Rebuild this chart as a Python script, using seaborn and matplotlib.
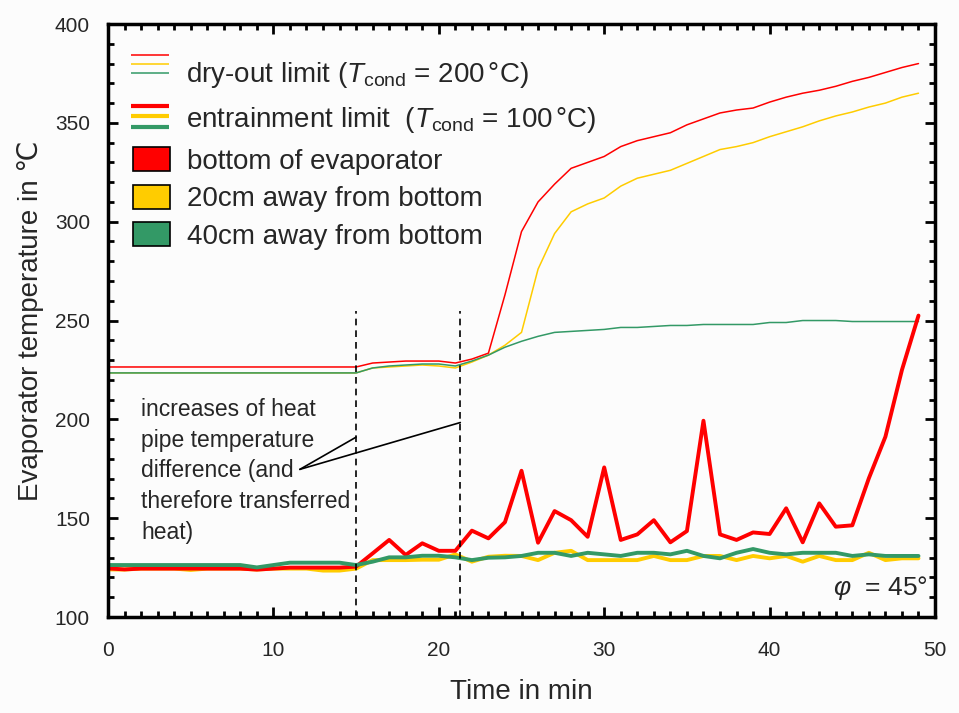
import numpy as np
import pandas as pd
import seaborn as sns
import matplotlib
matplotlib.use("Agg")
import matplotlib.pyplot as plt
from matplotlib.lines import Line2D
from matplotlib.patches import Patch
from matplotlib.legend_handler import HandlerBase
from matplotlib.ticker import MultipleLocator

# time axis, one reading per minute
time = list(range(50))

# dry-out limit (thin lines)
dry_red = [226.5] * 16 + [228.5, 229, 229.5, 229.5, 229.5, 228.5, 230.5, 233.5, 263,
           295, 310, 319, 327, 330, 333, 338, 341, 343, 345, 349, 352, 355, 356.5, 357.5,
           360.5, 363, 365, 366.5, 368.5, 371, 373, 375.5, 378, 380]
dry_yellow = [223.5] * 16 + [226, 226.5, 227, 227.5, 227, 226, 229, 232.5, 237.5,
              244, 276, 294, 305, 309, 312, 318, 322, 324, 326, 329.5, 333, 336.5, 338, 340,
              343, 345.5, 348, 351, 353.5, 355.5, 358, 360, 363, 365]
dry_green = [223.5] * 16 + [226, 227, 227.5, 228, 228, 227, 229.5, 232.5, 236.5,
             239.5, 242, 244, 244.5, 245, 245.5, 246.5, 246.5, 247, 247.5, 247.5, 248, 248, 248, 248,
             249, 249, 250, 250, 250, 249.5, 249.5, 249.5, 249.5, 249.5]

# measured temperatures (thick lines)
bottom = [124.6, 124.1, 124.5, 124.5, 124.5, 124.5, 124.5, 124.5, 124.5, 124, 124.5, 125, 125, 125, 125, 125.5,
          132.2, 139, 131.4, 137.3, 133.5, 133.5, 143.7, 139.8, 148,
          174, 137.6, 153.6, 149, 140.6, 175.7, 139, 141.8, 149, 137.8, 143.5, 199.3, 141.8, 139, 142.8,
          142, 155, 137.8, 157.5, 145.7, 146.4, 170.2, 191.2, 225, 252.5]
cm20 = [124.1, 124, 124.5, 124.5, 124.5, 123.8, 124.5, 124.5, 124.5, 124, 124.5, 124.5, 124.5, 123.5, 123.5, 124.5,
        128.8, 128.8, 128.8, 129, 129, 131.7, 128, 130.5, 131,
        130.9, 128.8, 132.5, 133.5, 128.8, 128.8, 128.8, 128.8, 130.9, 128.8, 128.8, 130.9, 130.9, 128.8, 130.9,
        129.7, 130.9, 128, 130.9, 128.8, 128.8, 132.5, 128.8, 129.7, 129.7]
cm40 = [126.3] * 9 + [125.1, 126.3, 127.5, 127.5, 127.5, 127.5, 126.3,
        128, 130.2, 130.2, 131, 131, 130.2, 128.8, 130, 130.2,
        130.9, 132.5, 132.5, 130.9, 132.5, 131.7, 130.9, 132.5, 132.5, 131.7, 133.5, 130.9, 129.7, 132.5, 134.4,
        132.5, 131.7, 132.5, 132.5, 132.5, 130.9, 131.7, 130.9, 130.9, 130.9]

# times where heat input was increased
steps = [15, 21.3]

RED = "#ff0000"
YEL = "#ffcc00"
GRN = "#339966"

sns.set_style("ticks")
plt.rcParams['font.family'] = ['Liberation Sans', 'DejaVu Sans']
plt.rcParams['mathtext.fontset'] = 'custom'
plt.rcParams['mathtext.rm'] = 'Liberation Sans'
plt.rcParams['mathtext.it'] = 'Liberation Sans:italic'

df = pd.DataFrame({'t': time, 'dry_red': dry_red, 'dry_yellow': dry_yellow, 'dry_green': dry_green,
                   'bottom': bottom, 'cm20': cm20, 'cm40': cm40})

fig = plt.figure(figsize=(9.59, 7.13), dpi=100, facecolor='#fcfcfc')
ax = fig.add_axes([0.1126, 0.1346, 0.8624, 0.8317])
ax.set_facecolor('#fcfcfc')

sns.lineplot(data=df, x='t', y='dry_yellow', color=YEL, lw=1.1, ax=ax)
sns.lineplot(data=df, x='t', y='dry_green', color=GRN, lw=1.1, ax=ax)
sns.lineplot(data=df, x='t', y='dry_red', color=RED, lw=1.1, ax=ax)
sns.lineplot(data=df, x='t', y='cm20', color=YEL, lw=2.8, ax=ax)
sns.lineplot(data=df, x='t', y='bottom', color=RED, lw=2.8, ax=ax)
sns.lineplot(data=df, x='t', y='cm40', color=GRN, lw=2.8, ax=ax)

ax.vlines(steps, 100, 255, colors='black', linestyles=(0, (4, 3)), lw=1.2)

ax.text(2.0, 211, "increases of heat\npipe temperature\ndifference (and\ntherefore transferred\nheat)",
        fontsize=16.5, ha='left', va='top', linespacing=1.44)
for xs, ys in [(steps[0], 191), (steps[1], 198.4)]:
    ax.annotate('', xy=(xs, ys), xytext=(11.6, 174.7),
                arrowprops=dict(arrowstyle='-', color='black', lw=1.2, shrinkA=0, shrinkB=0))

ax.text(0.992, 0.025, r'$\varphi$  = 45°', transform=ax.transAxes, fontsize=19, ha='right', va='bottom')

ax.set_xlim(0, 50)
ax.set_ylim(100, 400)
ax.xaxis.set_major_locator(MultipleLocator(10))
ax.xaxis.set_minor_locator(MultipleLocator(1))
ax.yaxis.set_major_locator(MultipleLocator(50))
ax.yaxis.set_minor_locator(MultipleLocator(10))
ax.tick_params(which='both', direction='in', top=True, right=True, width=2, color='black')
ax.tick_params(which='major', length=7, labelsize=15)
ax.tick_params(axis='x', which='major', pad=17)
ax.tick_params(axis='y', which='major', pad=13)
ax.tick_params(which='minor', length=4)
for s in ax.spines.values():
    s.set_linewidth(2.5)
    s.set_color('black')

ax.set_xlabel('Time in min', fontsize=20, labelpad=14)
ax.set_ylabel('Evaporator temperature in ℃', fontsize=20, labelpad=7.5)


class TripleLine(HandlerBase):
    def __init__(self, lw, gap, lift):
        super().__init__()
        self.lw = lw
        self.gap = gap
        self.lift = lift

    def create_artists(self, legend, orig_handle, xdescent, ydescent, width, height, fontsize, trans):
        arts = []
        for i, c in enumerate([RED, YEL, GRN]):
            y = height / 2 - ydescent + self.lift + (1 - i) * self.gap
            arts.append(Line2D([-xdescent, -xdescent + width], [y, y], color=c, lw=self.lw, transform=trans,
                               solid_capstyle='butt'))
        return arts


h_dry = Line2D([], [])
h_ent = Line2D([], [])
line_labels = [r'dry-out limit ($T_{\rm cond}$ = 200$\,$°C)',
               r'entrainment limit  ($T_{\rm cond}$ = 100$\,$°C)']
leg1 = ax.legend([h_dry, h_ent], line_labels, loc='upper left', bbox_to_anchor=(0.028, 0.94), frameon=False,
                 fontsize=20, handlelength=1.38, handleheight=0.95, handletextpad=0.58, labelspacing=0.56,
                 borderpad=0, borderaxespad=0,
                 handler_map={h_dry: TripleLine(1.1, 6.5, 5.5), h_ent: TripleLine(3.0, 7.5, 1.0)})
ax.add_artist(leg1)

patches = [Patch(facecolor=RED, edgecolor='black', lw=1.2),
           Patch(facecolor=YEL, edgecolor='black', lw=1.2),
           Patch(facecolor=GRN, edgecolor='black', lw=1.2)]
patch_labels = ['bottom of evaporator', '20cm away from bottom', '40cm away from bottom']
ax.legend(patches, patch_labels, loc='upper left', bbox_to_anchor=(0.0305, 0.792), frameon=False, fontsize=20,
          handlelength=1.33, handleheight=0.95, handletextpad=0.6, labelspacing=0.355, borderpad=0, borderaxespad=0)

fig.savefig('out.png', dpi=100, facecolor=fig.get_facecolor())
